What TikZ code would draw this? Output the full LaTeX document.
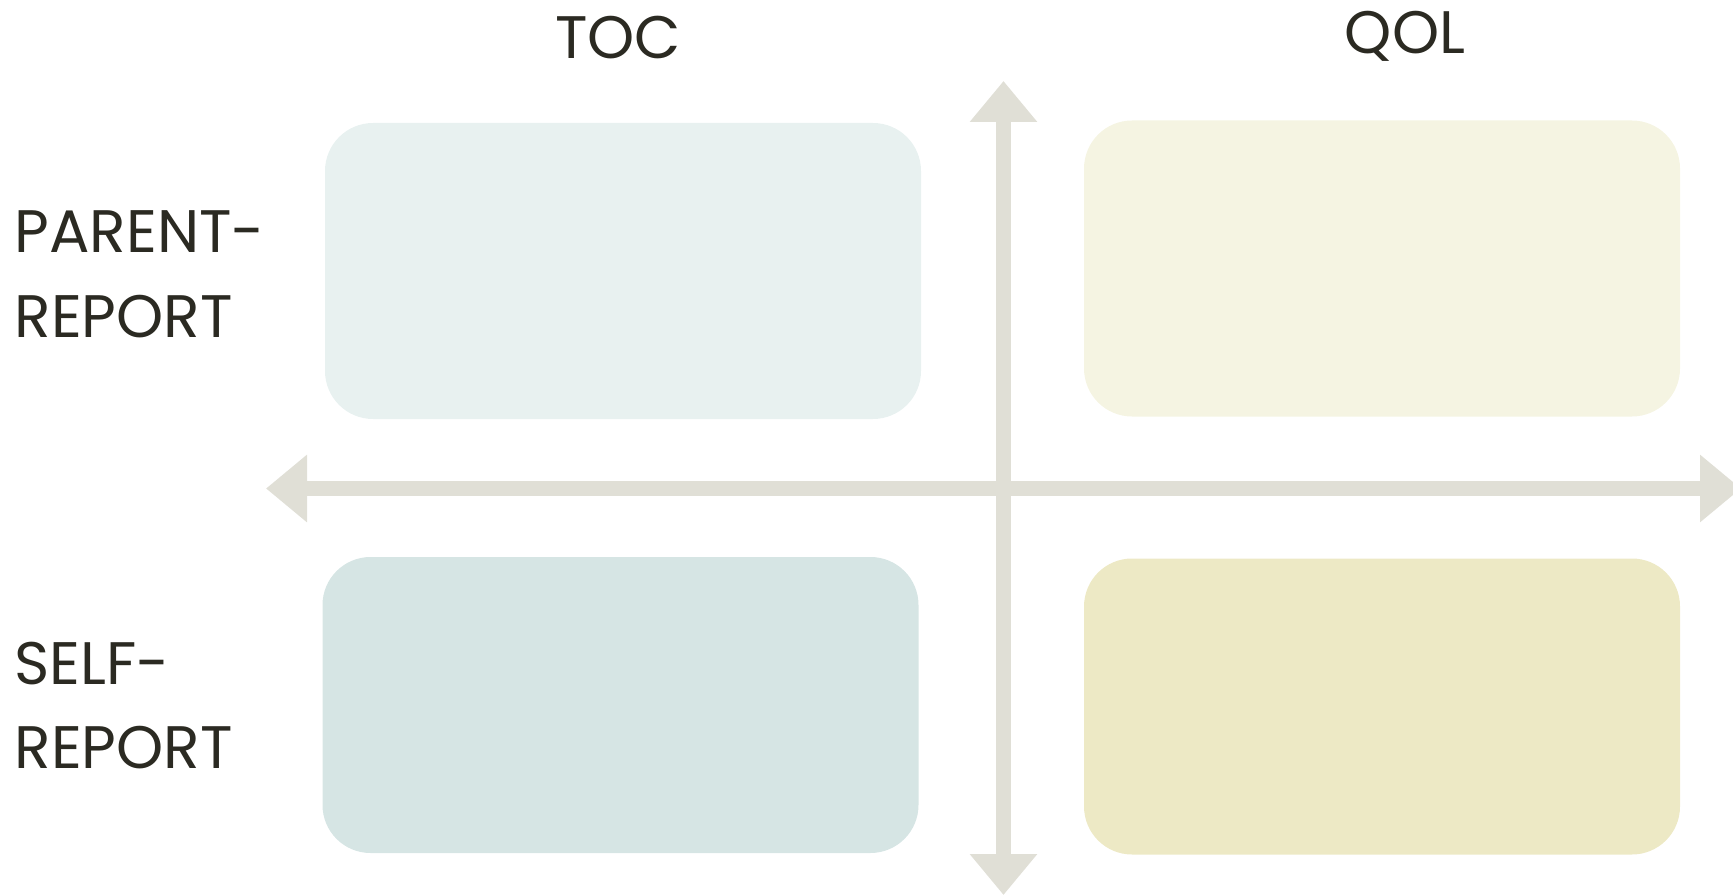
\documentclass[tikz,border=0pt]{standalone}
\usepackage{fontspec}
\setmainfont{Poppins}
\usetikzlibrary{arrows.meta}
\definecolor{axisgray}{HTML}{E0DFD6}
\definecolor{inkdark}{HTML}{2B2A22}
\definecolor{tocpale}{HTML}{E8F1F0}
\definecolor{tocdeep}{HTML}{D6E5E4}
\definecolor{qolpale}{HTML}{F5F4E2}
\definecolor{qoldeep}{HTML}{EDE9C5}
\begin{document}
\begin{tikzpicture}[x=1pt,y=-1pt,
  quad/.style={rounded corners=48pt,minimum width=596pt,minimum height=296pt,inner sep=0pt,draw=none},
  lbl/.style={text=inkdark,font=\fontsize{60}{60}\selectfont,inner sep=0pt},
  axisline/.style={draw=axisgray,line width=15.5pt,
    {Triangle[width=65pt,length=41pt]}-{Triangle[width=65pt,length=41pt]}}]
\useasboundingbox (0,0) rectangle (1733,896);
\clip (0,0) rectangle (1733,896);
% quadrant boxes
\node[quad,fill=tocpale] (tl) at (623,271) {};
\node[quad,fill=qolpale] (tr) at (1382,268.5) {};
\node[quad,fill=tocdeep] (bl) at (620.5,705) {};
\node[quad,fill=qoldeep] (br) at (1382,706.5) {};
% axes
\coordinate (up) at (1003.5,81);
\coordinate (down) at (1003.5,895);
\coordinate (left) at (266,488.5);
\coordinate (right) at (1741,488.5);
\draw[axisline] (left) -- (right);
\draw[axisline] (up) -- (down);
% column headings
\node[lbl,anchor=base] (toc) at (618,58.5) {TOC};
\node[lbl,anchor=base] (qol) at (1405,54) {QOL};
% row headings
\node[lbl,anchor=base west] (par1) at (14.5,253) {PARENT-};
\node[lbl,anchor=base west] (par2) at (14.5,337) {REPORT};
\node[lbl,anchor=base west] (self1) at (14.5,684) {SELF-};
\node[lbl,anchor=base west] (self2) at (14.5,768) {REPORT};
\end{tikzpicture}
\end{document}
